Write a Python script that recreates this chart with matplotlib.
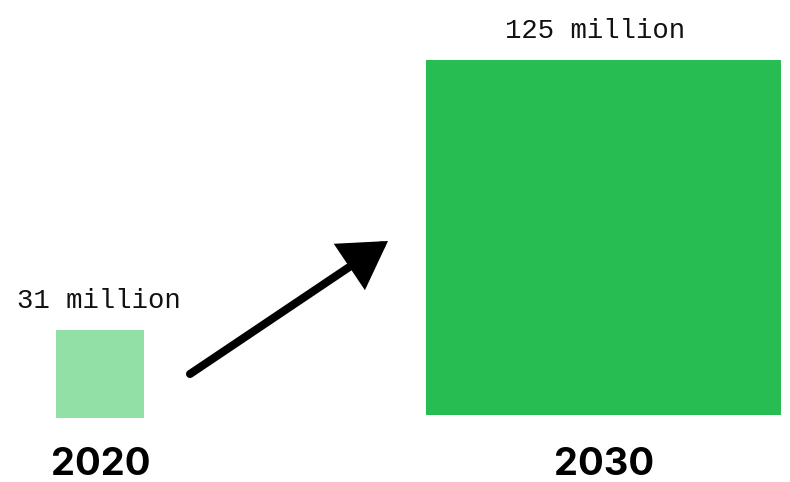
import matplotlib.pyplot as plt
from matplotlib.patches import Rectangle, FancyArrowPatch

years = ["2020", "2030"]
values = [31, 125]  # million
labels = ["31 million", "125 million"]
colors = ["#93E0A7", "#27BD52"]

# layout (pixel coords)
centers = [100, 603.5]
baselines = [418, 415]
label_x = [99, 595]
px_per_million = 355 / 125

fig = plt.figure(figsize=(7.9, 4.82), dpi=100)
ax = fig.add_axes([0, 0, 1, 1])
ax.set_xlim(0, 790)
ax.set_ylim(482, 0)
ax.axis("off")

for yr, v, lab, c, cx, lx, base in zip(years, values, labels, colors, centers, label_x, baselines):
    side = v * px_per_million
    ax.add_patch(Rectangle((cx - side / 2, base - side), side, side, color=c, lw=0))
    ax.text(lx, base - side - 22, lab, ha="center", va="baseline",
            fontsize=19.6, family="Liberation Mono", color="#111111")
    ax.text(cx + 1, 475, yr, ha="center", va="baseline", fontsize=27.5,
            family="Inter", weight="bold", color="black")

arrow = FancyArrowPatch((190, 374), (388, 241),
                        arrowstyle="-|>,head_length=1.25,head_width=0.75",
                        mutation_scale=20, lw=5.8, color="black",
                        capstyle="round", joinstyle="miter",
                        shrinkA=0, shrinkB=0)
ax.add_patch(arrow)

fig.savefig("out.png", dpi=100)
